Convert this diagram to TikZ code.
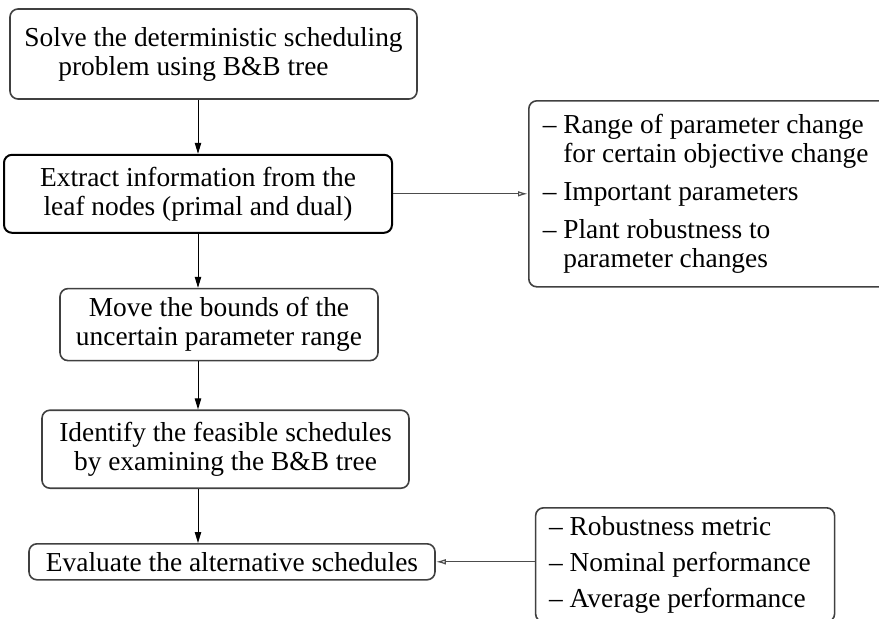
\documentclass[tikz,border=0pt]{standalone}
\usepackage{fontspec}
\setmainfont{Liberation Serif}
\usepackage{tikz}
\usetikzlibrary{arrows.meta,positioning}

\begin{document}
\begin{tikzpicture}[
        stepbox/.style={
            draw=black!75,
            line width=0.8pt,
            rounded corners=4pt,
            align=center,
            inner sep=3pt,
            font=\fontsize{13.7pt}{14.5pt}\selectfont
        },
        notebox/.style={
            stepbox,
            align=flush left,
            inner xsep=7pt
        },
        down/.style={-{Triangle[length=5.5pt,width=3.2pt]}, line width=0.5pt},
        feed/.style={-{Latex[open,length=5pt,width=2.8pt]}, line width=0.6pt, draw=black!70}
    ]
        \useasboundingbox (0,0) rectangle (439.5pt,-309pt);
        \coordinate (spine) at (99pt,0);

        \node[stepbox, minimum width=203.5pt, minimum height=45pt] (solve) at (106.75pt,-27pt)
            {Solve the deterministic scheduling\\\hspace*{-20pt}problem using B\&B tree};
        \node[stepbox, draw=black, line width=1pt, minimum width=194pt, minimum height=39pt,
            below=27pt of solve, xshift=-7.75pt] (extract)
            {Extract information from the\\leaf nodes (primal and dual)};
        \node[stepbox, minimum width=159pt, minimum height=36pt,
            below=27pt of extract, xshift=10.5pt] (move)
            {Move the bounds of the\\uncertain parameter range};
        \node[stepbox, minimum width=183.5pt, minimum height=39pt,
            below=24pt of move, xshift=3.25pt] (identify)
            {Identify the feasible schedules\\by examining the B\&B tree};
        \node[stepbox, minimum width=203pt, minimum height=18pt,
            below=27pt of identify, xshift=3.25pt] (evaluate)
            {Evaluate the alternative schedules};

        \node[notebox, text width=175pt, minimum height=93pt,
            right=67.5pt of extract] (ranges)
            {-- Range of parameter change\\\hphantom{-- }for certain objective change\\[4.5pt]
             -- Important parameters\\[4.5pt]
             -- Plant robustness to\\\hphantom{-- }parameter changes};
        \node[notebox, text width=136pt, inner xsep=6.75pt, minimum height=57pt,
            right=49.5pt of evaluate, yshift=-1.5pt] (metrics)
            {-- Robustness metric\\[3.5pt]-- Nominal performance\\[3.5pt]-- Average performance};

        \draw[down] (solve.south -| spine) -- (extract.north -| spine);
        \draw[down] (extract.south -| spine) -- (move.north -| spine);
        \draw[down] (move.south -| spine) -- (identify.north -| spine);
        \draw[down] (identify.south -| spine) -- (evaluate.north -| spine);
        \draw[feed] (extract.east) -- (extract.east -| ranges.west);
        \draw[feed] (metrics.west |- evaluate.east) -- (evaluate.east);
    \end{tikzpicture}
\end{document}
